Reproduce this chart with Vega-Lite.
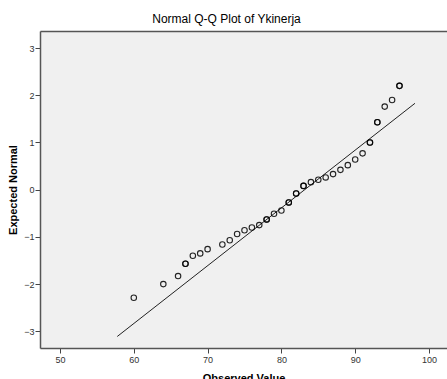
{
  "$schema": "https://vega.github.io/schema/vega-lite/v6.json",
  "autosize": {"type": "none"},
  "padding": {"left": 40, "top": 31, "right": 0, "bottom": 31},
  "width": 407,
  "height": 317,
  "background": "#ffffff",
  "title": {"text": "Normal Q-Q Plot of Ykinerja", "font": "Liberation Sans", "fontSize": 12, "fontWeight": "normal", "color": "#000000", "anchor": "middle", "dx": -17, "offset": 5},
  "config": {
    "view": {"fill": "#f0f0f0", "stroke": null},
    "axis": {"grid": false, "domainColor": "#555555", "domainWidth": 1.5, "tickColor": "#444444", "tickSize": 5, "labelFont": "Liberation Sans", "labelFontSize": 9, "labelColor": "#333333", "titleFont": "Liberation Sans", "titleFontSize": 11, "titleFontWeight": "bold", "titleColor": "#000000"}
  },
  "datasets": {
    "pts": [
      {"obs": 60, "exp": -2.29}, {"obs": 64, "exp": -2.0}, {"obs": 66, "exp": -1.83},
      {"obs": 67, "exp": -1.57}, {"obs": 67, "exp": -1.57}, {"obs": 68, "exp": -1.4},
      {"obs": 69, "exp": -1.35}, {"obs": 70, "exp": -1.26}, {"obs": 72, "exp": -1.16},
      {"obs": 73, "exp": -1.07}, {"obs": 74, "exp": -0.94}, {"obs": 75, "exp": -0.86},
      {"obs": 76, "exp": -0.8}, {"obs": 77, "exp": -0.75}, {"obs": 78, "exp": -0.63},
      {"obs": 78, "exp": -0.63}, {"obs": 79, "exp": -0.51}, {"obs": 80, "exp": -0.44},
      {"obs": 81, "exp": -0.27}, {"obs": 81, "exp": -0.27}, {"obs": 82, "exp": -0.08},
      {"obs": 82, "exp": -0.08}, {"obs": 83, "exp": 0.08}, {"obs": 83, "exp": 0.08},
      {"obs": 84, "exp": 0.16}, {"obs": 85, "exp": 0.21}, {"obs": 86, "exp": 0.26},
      {"obs": 87, "exp": 0.33}, {"obs": 88, "exp": 0.42}, {"obs": 89, "exp": 0.52},
      {"obs": 90, "exp": 0.64}, {"obs": 91, "exp": 0.77}, {"obs": 92, "exp": 1.0},
      {"obs": 92, "exp": 1.0}, {"obs": 93, "exp": 1.43}, {"obs": 93, "exp": 1.43},
      {"obs": 94, "exp": 1.76}, {"obs": 95, "exp": 1.9}, {"obs": 96, "exp": 2.2},
      {"obs": 96, "exp": 2.2}
    ],
    "ref": [
      {"obs": 57.76, "exp": -3.11}, {"obs": 98.1, "exp": 1.83}
    ]
  },
  "layer": [
    {
      "data": {"name": "ref"},
      "mark": {"type": "line", "color": "#222222", "strokeWidth": 1},
      "encoding": {
        "x": {"field": "obs", "type": "quantitative", "scale": {"domain": [47.29, 102.44], "nice": false, "zero": false},
              "axis": {"orient": "top", "labels": false, "ticks": false, "title": null, "domain": true}},
        "y": {"field": "exp", "type": "quantitative", "scale": {"domain": [-3.354, 3.362], "nice": false, "zero": false},
              "axis": {"values": [-3, -2, -1, 0, 1, 2, 3], "title": "Expected Normal", "titlePadding": 5, "labelPadding": 1}}
      }
    },
    {
      "data": {"name": "pts"},
      "mark": {"type": "point", "shape": "circle", "filled": false, "color": "#000000", "size": 30, "strokeWidth": 1.1, "opacity": 0.85},
      "encoding": {
        "x": {"field": "obs", "type": "quantitative", "scale": {"domain": [47.29, 102.44], "nice": false, "zero": false},
              "axis": {"orient": "bottom", "values": [50, 60, 70, 80, 90, 100], "title": "Observed Value", "titlePadding": 8, "labelPadding": 2}},
        "y": {"field": "exp", "type": "quantitative"}
      }
    }
  ],
  "resolve": {"axis": {"x": "independent"}}
}
